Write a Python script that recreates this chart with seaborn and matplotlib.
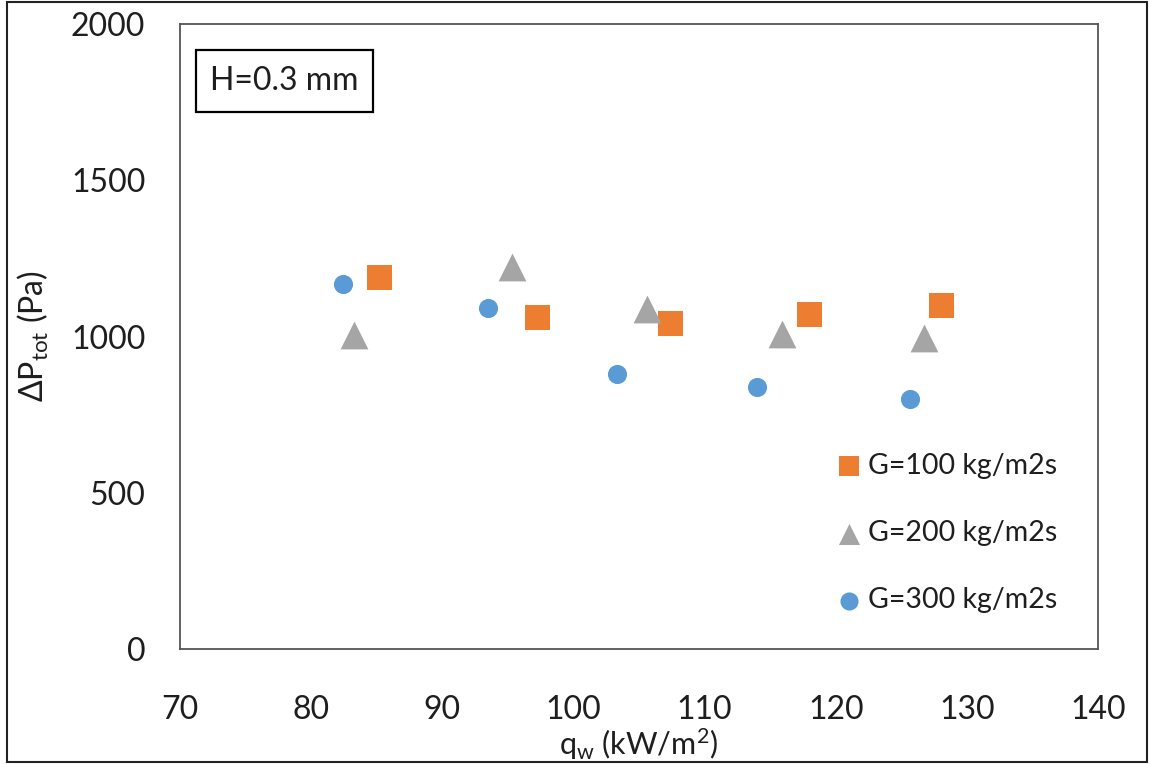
import matplotlib
matplotlib.use("Agg")
import matplotlib.pyplot as plt
from matplotlib.patches import Rectangle
import seaborn as sns
import pandas as pd

# Wall heat flux (kW/m2) and total pressure drop (Pa) for each mass flux
q_g100 = [85.2, 97.2, 107.4, 118.0, 128.0]
dp_g100 = [1190, 1062, 1043, 1072, 1101]
q_g200 = [83.3, 95.3, 105.6, 115.9, 126.7]
dp_g200 = [1006, 1222, 1088, 1008, 995]
q_g300 = [82.4, 93.5, 103.3, 114.0, 125.7]
dp_g300 = [1168, 1091, 880, 838, 800]

series_labels = ["G=100 kg/m2s", "G=200 kg/m2s", "G=300 kg/m2s"]
x_ticks = [70, 80, 90, 100, 110, 120, 130, 140]
y_ticks = [0, 500, 1000, 1500, 2000]

sns.set_theme(style="white")
plt.rcParams["font.family"] = ["Lato", "DejaVu Sans"]
plt.rcParams["mathtext.fontset"] = "custom"
plt.rcParams["mathtext.rm"] = "Lato"
plt.rcParams["mathtext.it"] = "Lato:italic"

W, H = 1150, 764
fig = plt.figure(figsize=(W / 100, H / 100), dpi=100)
ax = fig.add_axes([180 / W, 1 - 649 / H, (1098 - 180) / W, (649 - 24) / H])

frames = []
for q, dp, lab in zip([q_g100, q_g200, q_g300], [dp_g100, dp_g200, dp_g300], series_labels):
    frames.append(pd.DataFrame({"q": q, "dp": dp, "G": lab}))
df = pd.concat(frames, ignore_index=True)

styles = {
    "G=100 kg/m2s": dict(marker="s", color="#ED7D31", s=324),
    "G=200 kg/m2s": dict(marker="^", color="#A5A5A5", s=400),
    "G=300 kg/m2s": dict(marker="o", color="#5B9BD5", s=190),
}
for lab in series_labels:
    st = styles[lab]
    sns.scatterplot(data=df[df["G"] == lab], x="q", y="dp", ax=ax,
                    marker=st["marker"], color=st["color"], s=st["s"],
                    linewidth=0, label=lab, zorder=3)

ax.set_xlim(70, 140)
ax.set_ylim(0, 2000)
ax.set_xticks(x_ticks)
ax.set_yticks(y_ticks)
ax.tick_params(axis="both", length=0, labelsize=23, colors="#1e1e1e")
ax.tick_params(axis="x", pad=33)
ax.tick_params(axis="y", pad=25)
for sp in ax.spines.values():
    sp.set_color("#555555")
    sp.set_linewidth(1.3)

ax.set_xlabel(r"q$_{\mathrm{w}}$ (kW/m$^{2}$)", fontsize=22, color="#1e1e1e", labelpad=1)
ax.set_ylabel(r"$\Delta$P$_{\mathrm{tot}}$ (Pa)", fontsize=23, color="#1e1e1e", labelpad=14)

# annotation box
ax.add_patch(Rectangle((16 / 918, 537 / 625), 177 / 918, 62 / 625,
                       transform=ax.transAxes, fill=False, edgecolor="black",
                       linewidth=1.6, zorder=4))
ax.text((284.5 - 180) / 918, (649 - 81) / 625, "H=0.3 mm", transform=ax.transAxes,
        ha="center", va="center", fontsize=23, color="#1e1e1e", zorder=5)

leg = ax.legend(loc="center left", bbox_to_anchor=(838.5 / W, 1 - 533 / H),
                bbox_transform=fig.transFigure, frameon=False, fontsize=20.5,
                handlelength=0.75, handletextpad=0.3, labelspacing=1.45,
                borderpad=0, borderaxespad=0, scatterpoints=1)
for h, sz in zip(leg.legend_handles, [225, 230, 170]):
    h.set_sizes([sz])
for t in leg.get_texts():
    t.set_color("#1e1e1e")

# outer frame around the figure
fig.add_artist(Rectangle((7 / W, 2 / H), 1140 / W, 760 / H, transform=fig.transFigure,
                         fill=False, edgecolor="#222222", linewidth=1.5))

fig.savefig("out.png", dpi=100)
